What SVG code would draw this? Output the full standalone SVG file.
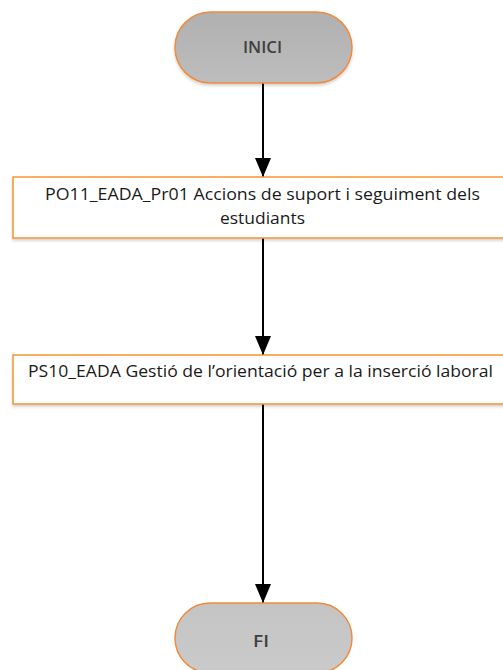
<svg xmlns="http://www.w3.org/2000/svg" width="503" height="670" viewBox="0 0 503 670">
<style>
.term{stroke:#f08a3c;stroke-width:1.5}
.proc{fill:#ffffff;stroke:#f7952f;stroke-width:1.5}
.lbl{font-family:"Open Sans","Liberation Sans",sans-serif;font-size:17px;fill:#1a1a1a;text-anchor:middle}
.tlbl{font-family:"Open Sans","Liberation Sans",sans-serif;font-size:16px;font-weight:600;fill:#404040;text-anchor:middle}
.conn{stroke:#000;stroke-width:2;fill:none}
</style>
<defs>
<linearGradient id="g1" x1="0" y1="0" x2="0" y2="1">
<stop offset="0" stop-color="#b0b0b0"/><stop offset="1" stop-color="#bdbdbd"/>
</linearGradient>
<linearGradient id="g2" x1="0" y1="0" x2="0" y2="1">
<stop offset="0" stop-color="#c4c4c4"/><stop offset="1" stop-color="#cacaca"/>
</linearGradient>
<filter id="sh" x="-10%" y="-20%" width="120%" height="150%">
<feDropShadow dx="0" dy="2" stdDeviation="1.5" flood-color="#000" flood-opacity="0.18"/>
</filter>
<marker id="ah2" viewBox="0 0 19 16" refX="19" refY="8" markerWidth="19" markerHeight="16" orient="auto" markerUnits="userSpaceOnUse">
<path d="M0,0 L19,8 L0,16 z" fill="#000"/>
</marker>
</defs>
<g id="connectors">
<line class="conn" x1="263" y1="83" x2="263" y2="177" marker-end="url(#ah2)"/>
<line class="conn" x1="263" y1="238" x2="263" y2="355" marker-end="url(#ah2)"/>
<line class="conn" x1="263" y1="404" x2="263" y2="603" marker-end="url(#ah2)"/>
</g>
<g id="inici">
<rect class="term" x="175" y="12" width="177" height="71" rx="35.5" fill="url(#g1)" filter="url(#sh)"/>
<text class="tlbl" x="262.5" y="53" textLength="39" lengthAdjust="spacingAndGlyphs">INICI</text>
</g>
<g id="po11">
<rect class="proc" x="13" y="177" width="498" height="61" filter="url(#sh)"/>
<text class="lbl" x="262.5" y="200" textLength="435" lengthAdjust="spacingAndGlyphs">PO11_EADA_Pr01 Accions de suport i seguiment dels</text>
<text class="lbl" x="262.5" y="224" textLength="85" lengthAdjust="spacingAndGlyphs">estudiants</text>
</g>
<g id="ps10">
<rect class="proc" x="13" y="355" width="498" height="49" filter="url(#sh)"/>
<text class="lbl" x="260.5" y="377" textLength="465" lengthAdjust="spacingAndGlyphs">PS10_EADA Gestió de l’orientació per a la inserció laboral</text>
</g>
<g id="fi">
<rect class="term" x="175" y="603" width="177" height="70" rx="35" fill="url(#g2)"/>
<text class="tlbl" x="261" y="647" textLength="16" lengthAdjust="spacingAndGlyphs">FI</text>
</g>
</svg>
